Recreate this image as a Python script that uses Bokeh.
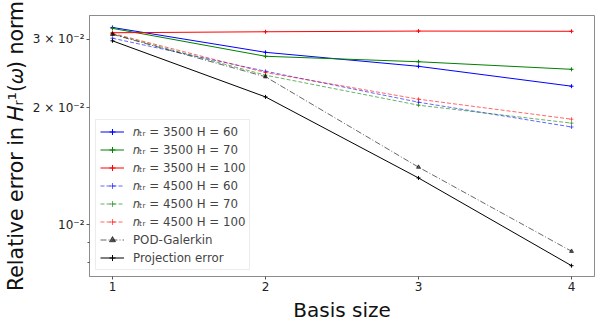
from bokeh.plotting import figure
from bokeh.models import Range1d, FixedTicker, Legend
from bokeh.embed import file_html
from bokeh.resources import INLINE

basis = [1, 2, 3, 4]
s3500_h60 = [0.03212, 0.02773, 0.02553, 0.02270]
s3500_h70 = [0.03195, 0.02709, 0.02623, 0.02508]
s3500_h100 = [0.03113, 0.03131, 0.03144, 0.03140]
s4500_h60 = [0.03014, 0.02480, 0.02065, 0.01784]
s4500_h70 = [0.03090, 0.02423, 0.02029, 0.01825]
s4500_h100 = [0.03100, 0.02461, 0.02102, 0.01868]
pod_galerkin = [0.03084, 0.02400, 0.01407, 0.00856]
projection = [0.02968, 0.02131, 0.01320, 0.00786]

labels = [
    "𝑛ₜᵣ = 3500 H = 60",
    "𝑛ₜᵣ = 3500 H = 70",
    "𝑛ₜᵣ = 3500 H = 100",
    "𝑛ₜᵣ = 4500 H = 60",
    "𝑛ₜᵣ = 4500 H = 70",
    "𝑛ₜᵣ = 4500 H = 100",
    "POD-Galerkin",
    "Projection error",
]
y_ticks = [0.01, 0.02, 0.03]
y_tick_labels = ["10⁻²", "2 × 10⁻²", "3 × 10⁻²"]
y_minor = [0.008, 0.009]

p = figure(width=602, height=324, y_axis_type="log", output_backend="svg",
           toolbar_location=None,
           x_range=Range1d(0.85, 4.15), y_range=Range1d(0.007374, 0.03447),
           min_border_left=89, min_border_right=8, min_border_top=15,
           min_border_bottom=42)
p.grid.visible = False
p.outline_line_color = "#8c8c8c"
p.background_fill_color = "white"
p.border_fill_color = "white"

series = [
    (s3500_h60, "blue", "solid", 1.0, "cross"),
    (s3500_h70, "green", "solid", 1.0, "cross"),
    (s3500_h100, "red", "solid", 1.0, "cross"),
    (s4500_h60, "blue", "4 2", 0.6, "cross"),
    (s4500_h70, "green", "4 2", 0.6, "cross"),
    (s4500_h100, "red", "4 2", 0.6, "cross"),
    (pod_galerkin, "black", "6 2 1 2", 0.6, "triangle"),
    (projection, "black", "solid", 1.0, "cross"),
]
items = []
for (vals, col, dash, alpha, mk), lab in zip(series, labels):
    r1 = p.line(basis, vals, line_color=col, line_dash=dash, line_alpha=alpha, line_width=1)
    r2 = p.scatter(basis, vals, marker=mk, size=4,
                   line_color=col, fill_color=col, alpha=alpha)
    items.append((lab, [r1, r2]))

legend = Legend(items=items, location=(6, 6), margin=0)
legend.label_text_font = "DejaVu Sans"
legend.label_text_font_size = "11.8px"
legend.glyph_height = 15
legend.label_height = 15
legend.glyph_width = 24
legend.spacing = 3
legend.padding = 4
legend.label_standoff = 9
legend.border_line_color = "#d9d9d9"
legend.background_fill_alpha = 0.9
p.add_layout(legend, "center")

for ax in (p.xaxis, p.yaxis):
    ax.axis_line_color = "#8c8c8c"
    ax.major_tick_line_color = "#555555"
    ax.minor_tick_line_color = "#555555"
    ax.major_tick_in = 0
    ax.major_tick_out = 3
    ax.minor_tick_in = 0
    ax.minor_tick_out = 2
    ax.major_label_text_font = "DejaVu Sans"
    ax.major_label_text_font_size = "12px"
    ax.major_label_text_color = "#222222"
    ax.axis_label_text_font = "DejaVu Sans"
    ax.axis_label_text_font_size = "20px"
    ax.axis_label_text_font_style = "normal"
    ax.axis_label_text_color = "#111111"
    ax.major_label_standoff = 2

p.xaxis.ticker = FixedTicker(ticks=basis)
p.xaxis.axis_label = "Basis size"
p.xaxis.axis_label_standoff = 4
p.yaxis.ticker = FixedTicker(ticks=y_ticks, minor_ticks=y_minor)
p.yaxis.major_label_overrides = {t: l for t, l in zip(y_ticks, y_tick_labels)}
p.yaxis.axis_label = "Relative error in 𝐻ᵣ¹(𝜔) norm"
p.yaxis.axis_label_text_font_size = "20.5px"
p.yaxis.axis_label_standoff = 2

open("out.html", "w").write(file_html(p, INLINE))
